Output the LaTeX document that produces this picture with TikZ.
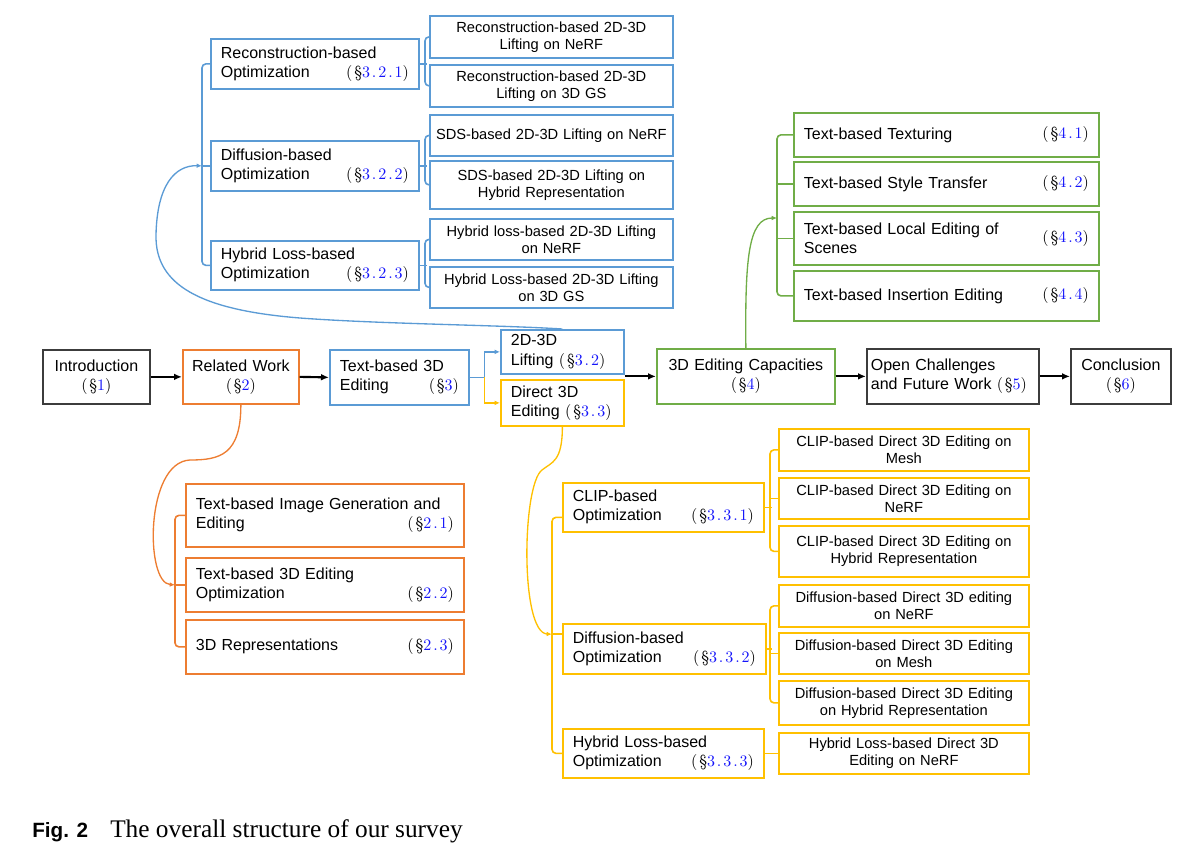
\documentclass[tikz,border=0pt]{standalone}
\usepackage{fontspec}
\setmainfont{Liberation Sans}
\newfontfamily\capfont{Liberation Serif}
\newfontfamily\reffont{lmroman10-regular.otf}[LetterSpace=12]
\usetikzlibrary{arrows.meta,calc}
\definecolor{cblue}{RGB}{91,155,213}
\definecolor{corange}{RGB}{237,125,49}
\definecolor{cgreen}{RGB}{112,173,71}
\definecolor{cyellow}{RGB}{255,192,0}
\definecolor{cdark}{RGB}{60,60,60}
\definecolor{refblue}{RGB}{20,20,250}
\newcommand{\sref}[1]{{\reffont\fontsize{12}{13}\selectfont(\S\textcolor{refblue}{#1})}}
\newcommand{\tofar}{\hskip 0pt plus 1filll}
\newcommand{\withref}[2]{\parbox[c]{165pt}{\raggedright #1}\tofar\sref{#2}}

\begin{document}
\begin{tikzpicture}[x=.75pt,y=-.75pt,
  box/.style={draw,line width=1.3pt,inner sep=0pt,anchor=north west},
  wh/.style 2 args={minimum width=#1*.75pt,minimum height=#2*.75pt,text width=#1*.75pt-20*.75pt},
  lw/.style 2 args={wh={#1}{#2},text width=#1*.75pt-8*.75pt},
  big/.style={font=\fontsize{12}{14.5}\selectfont},
  leaf/.style={box,align=center,font=\fontsize{11}{12.6}\selectfont},
  link/.style={line width=1.2pt,rounded corners=3pt},
  go/.style={line width=1.6pt,-{Latex[length=6pt,width=5pt]}},
  tip/.style={line width=1pt,-{Latex[length=4pt,width=3.5pt]}}]
\useasboundingbox (0,0) rectangle (1189,847);

% main row
\node[box,draw=cdark,big,align=center,lw={107}{54}] (intro) at (42,349) {Introduction\\\sref{1}};
\node[box,draw=corange,big,align=center,lw={116}{54}] (rw) at (182,349) {Related Work\\\sref{2}};
\node[box,draw=cblue,big,align=left,wh={139}{55}] (tb3d) at (329,349) {Text-based 3D\\Editing\tofar\sref{3}\hspace*{8pt}};
\node[box,draw=cblue,big,align=left,wh={123}{44}] (lift) at (500,329) {2D-3D\\Lifting \sref{3.2}};
\node[box,draw=cyellow,big,align=left,wh={123}{46}] (direct) at (500,379) {Direct 3D\\Editing \sref{3.3}};
\node[box,draw=cgreen,big,align=center,lw={178}{55}] (cap) at (656,348) {3D Editing Capacities\\\sref{4}};
\node[box,draw=cdark,big,align=left,wh={172}{55},text width=164*.75pt] (open) at (866,348) {Open Challenges\\and Future Work \sref{5}};
\node[box,draw=cdark,big,align=center,lw={100}{55}] (concl) at (1070,348) {Conclusion\\\sref{6}};

\draw[go] (intro.east) -- (rw.west);
\draw[go] (rw.east) -- (tb3d.west);
\draw[go] (cap.west -| lift.east) -- (cap.west);
\draw[go] (cap.east) -- (open.west);
\draw[go] (open.east) -- (concl.west);
\draw[cblue,tip] (tb3d.east) -- ++(15,0) coordinate (split) |- (lift.west);
\draw[cyellow,tip] (split) |- (direct.west);

% 2D-3D lifting
\node[box,draw=cblue,big,align=left,wh={208}{50}] (rec) at (210,38) {Reconstruction-based\\Optimization\tofar\sref{3.2.1}};
\node[box,draw=cblue,big,align=left,wh={208}{50}] (dif) at (210,140) {Diffusion-based\\Optimization\tofar\sref{3.2.2}};
\node[box,draw=cblue,big,align=left,wh={208}{49}] (hyb) at (210,240) {Hybrid Loss-based\\Optimization\tofar\sref{3.2.3}};
\node[leaf,draw=cblue,lw={243}{42}] (bl1) at (429,15) {Reconstruction-based 2D-3D\\Lifting on NeRF};
\node[leaf,draw=cblue,lw={243}{42}] (bl2) at (429,64) {Reconstruction-based 2D-3D\\Lifting on 3D GS};
\node[leaf,draw=cblue,lw={243}{41}] (bl3) at (429,114) {SDS-based 2D-3D Lifting on NeRF};
\node[leaf,draw=cblue,lw={243}{48}] (bl4) at (429,160) {SDS-based 2D-3D Lifting on\\Hybrid Representation};
\node[leaf,draw=cblue,lw={243}{41}] (bl5) at (429,218) {Hybrid loss-based 2D-3D Lifting\\on NeRF};
\node[leaf,draw=cblue,lw={243}{41}] (bl6) at (429,266) {Hybrid Loss-based 2D-3D Lifting\\on 3D GS};

\draw[cblue,link] (rec.west) -- ++(-8,0) |- (hyb.west);
\draw[cblue,link] (dif.west) -- ++(-8,0) coordinate (bj);
\foreach \m/\a/\b in {rec/bl1/bl2,dif/bl3/bl4,hyb/bl5/bl6}{
  \draw[cblue,link] (\a.west) -- ++(-4,0) |- (\b.west);
  \draw[cblue,link] (\m.east) -- ++(7,0);}
\draw[cblue,tip] (lift.north) .. controls (500,325) and (380,324) .. (300,318)
  .. controls (200,310) and (155,285) .. (156,235)
  .. controls (157,185) and (175,165) .. (bj);

% 3D editing capacities
\node[box,draw=cgreen,big,align=left,wh={305}{44}] (gt1) at (793,112) {\withref{Text-based Texturing}{4.1}};
\node[box,draw=cgreen,big,align=left,wh={305}{44}] (gt2) at (793,161) {\withref{Text-based Style Transfer}{4.2}};
\node[box,draw=cgreen,big,align=left,wh={305}{53}] (gt3) at (793,211) {\withref{Text-based Local Editing of\\Scenes}{4.3}};
\node[box,draw=cgreen,big,align=left,wh={305}{50}] (gt4) at (793,270) {\withref{Text-based Insertion Editing}{4.4}};

\draw[cgreen,link] (gt1.west) -- ++(-16,0) |- (gt4.west);
\foreach \n in {gt2,gt3}{\draw[cgreen,link] (\n.west) -- ++(-16,0);}
\coordinate (gj) at (777,218);
\draw[cgreen,tip] (cap.north) .. controls (745,260) and (748,218) .. (gj);

% related work
\node[box,draw=corange,big,align=left,wh={278}{63}] (oc1) at (185,483) {Text-based Image Generation and\\Editing\tofar\sref{2.1}\hspace*{17pt}};
\node[box,draw=corange,big,align=left,wh={278}{54}] (oc2) at (185,557) {Text-based 3D Editing\\Optimization\tofar\sref{2.2}\hspace*{17pt}};
\node[box,draw=corange,big,align=left,wh={278}{54}] (oc3) at (185,619) {3D Representations\tofar\sref{2.3}\hspace*{17pt}};

\draw[corange,link] (oc1.west) -- ++(-10,0) |- (oc3.west);
\draw[corange,link] (oc2.west) -- ++(-10,0) coordinate (oj);
\draw[corange,tip] (rw.south) .. controls +(0,50) and +(30,0) .. (190,460)
  .. controls (145,462) and (145,583) .. (oj);

% direct 3D editing
\node[box,draw=cyellow,big,align=left,wh={201}{49}] (ym1) at (562,482) {CLIP-based\\Optimization\tofar\sref{3.3.1}};
\node[box,draw=cyellow,big,align=left,wh={203}{50}] (ym2) at (562,623) {Diffusion-based\\Optimization\tofar\sref{3.3.2}};
\node[box,draw=cyellow,big,align=left,wh={201}{49}] (ym3) at (562,728) {Hybrid Loss-based\\Optimization\tofar\sref{3.3.3}};
\node[leaf,draw=cyellow,lw={250}{42}] (yl1) at (778,428) {CLIP-based Direct 3D Editing on\\Mesh};
\node[leaf,draw=cyellow,lw={250}{41}] (yl2) at (778,477) {CLIP-based Direct 3D Editing on\\NeRF};
\node[leaf,draw=cyellow,lw={250}{51}] (yl3) at (778,525) {CLIP-based Direct 3D Editing on\\Hybrid Representation};
\node[leaf,draw=cyellow,lw={250}{42}] (yl4) at (778,584) {Diffusion-based Direct 3D editing\\on NeRF};
\node[leaf,draw=cyellow,lw={250}{41}] (yl5) at (778,632) {Diffusion-based Direct 3D Editing\\on Mesh};
\node[leaf,draw=cyellow,lw={250}{44}] (yl6) at (778,680) {Diffusion-based Direct 3D Editing\\on Hybrid Representation};
\node[leaf,draw=cyellow,lw={250}{41}] (yl7) at (778,732) {Hybrid Loss-based Direct 3D\\Editing on NeRF};

\draw[cyellow,link] ([yshift=-7.5pt]ym1.west) -- ++(-10,0) |- (ym3.west);
\draw[cyellow,link] ([yshift=11pt]ym2.west) -- ++(-10,0) coordinate (yj);
\draw[cyellow,link] (yl1.west) -- ++(-8,0) |- (yl3.west);
\draw[cyellow,link] (yl2.west) -- ++(-8,0);
\draw[cyellow,link] (ym1.east) -- ++(7,0);
\draw[cyellow,link] (yl4.west) -- ++(-8,0) |- (yl6.west);
\draw[cyellow,link] (yl5.west) -- ++(-8,0);
\draw[cyellow,link] (ym2.east) -- ++(5,0);
\draw[cyellow,link] (ym3.east) -- (yl7.west);
\draw[cyellow,tip] (direct.south) .. controls +(0,35) and +(10,-8) .. (542,470)
  .. controls (522,485) and (520,633) .. (yj);

% caption
\node[anchor=base west,inner sep=0pt,font=\fontsize{15.5}{18}\selectfont\bfseries] (figno) at (32,837) {Fig. 2};
\node[anchor=base west,inner sep=0pt,font=\capfont\fontsize{19}{22}\selectfont] (figcap) at (110,837) {The overall structure of our survey};
\end{tikzpicture}
\end{document}
